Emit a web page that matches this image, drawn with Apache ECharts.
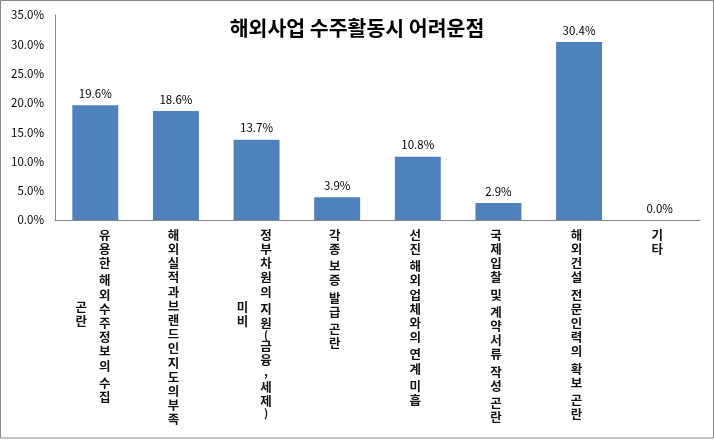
<!DOCTYPE html>
<html>
<head>
<meta charset="utf-8">
<script src="https://cdn.jsdelivr.net/npm/echarts@6/dist/echarts.min.js"></script>
<style>
html,body{margin:0;padding:0;background:#fff;}
#chart{width:714px;height:440px;}
</style>
</head>
<body>
<div id="chart"></div>
<script>
// ---- data ----
var titleText = '해외사업 수주활동시 어려운점';
// each category as its wrapped text columns (first column, then overflow column)
var categoryMain = [
  '유용한 해외수주정보의 수집',
  '해외실적과브랜드인지도의부족',
  '정부차원의 지원(금융, 세제)',
  '각종 보증 발급 곤란',
  '선진 해외업체와의 연계 미흡',
  '국제입찰 및 계약서류 작성 곤란',
  '해외건설 전문인력의 확보 곤란',
  '기타'
];
var categoryExtra = ['곤란', '', '미비', '', '', '', '', ''];
var values = [19.6, 18.6, 13.7, 3.9, 10.8, 2.9, 30.4, 0.0];
var yMin = 0, yMax = 35, yStep = 5;

// ---- rendering ----
var FONT = '"Noto Sans CJK KR", "Noto Sans", sans-serif';
function stack(s) {
  return s.split('').map(function (ch) {
    if (ch === ' ') return '{s| }';
    if ('(),'.indexOf(ch) >= 0) return '{p|' + ch + '}';
    return '{c|' + ch + '}';
  }).join('\n');
}
var richStyle = {
  c: {fontSize: 12.5, lineHeight: 14.2, fontFamily: FONT, fontWeight: 'bold', color: '#111'},
  s: {fontSize: 4, lineHeight: 3, fontFamily: FONT, color: '#000'},
  p: {fontSize: 11, lineHeight: 9, fontFamily: FONT, fontWeight: 'bold', color: '#111'}
};
var hasExtra = categoryExtra.map(function (e) { return e !== ''; });
var mainData = categoryMain.map(function (c, i) {
  return {value: c, textStyle: {padding: hasExtra[i] ? [0, 0, 0, 19] : [0, 5, 0, 0]}};
});
var extraData = categoryMain.map(function (c, i) {
  return {value: c, textStyle: {padding: [0, 28, 0, 0]}};
});

var chart = echarts.init(document.getElementById('chart'), null, {renderer: 'canvas'});
chart.setOption({
  animation: false,
  backgroundColor: '#fff',
  title: {
    text: titleText,
    left: 'center',
    top: 13,
    textStyle: {fontFamily: FONT, fontSize: 20.5, fontWeight: 'bold', color: '#000'}
  },
  grid: {left: 55, right: 14, top: 15, bottom: 220, containLabel: false},
  xAxis: [{
    type: 'category',
    data: mainData,
    axisLine: {lineStyle: {color: '#868686', width: 1}},
    axisTick: {show: false},
    axisLabel: {
      interval: 0,
      margin: 8,
      hideOverlap: false,
      formatter: function (v) { return stack(v); },
      rich: richStyle
    }
  }, {
    type: 'category',
    position: 'bottom',
    data: extraData,
    axisLine: {show: false},
    axisTick: {show: false},
    axisLabel: {
      interval: 0,
      margin: 80,
      hideOverlap: false,
      formatter: function (v, i) { return categoryExtra[i] ? stack(categoryExtra[i]) : ''; },
      rich: richStyle
    }
  }],
  yAxis: {
    type: 'value',
    min: yMin, max: yMax, interval: yStep,
    axisLine: {show: true, lineStyle: {color: '#868686', width: 1}},
    axisTick: {show: false},
    splitLine: {show: false},
    axisLabel: {
      margin: 11,
      color: '#000',
      fontFamily: FONT,
      fontSize: 11.5,
      formatter: function (v) { return v.toFixed(1) + '%'; }
    }
  },
  series: [{
    type: 'bar',
    xAxisIndex: 0,
    data: values,
    barWidth: '57%',
    itemStyle: {color: '#4F81BD'},
    label: {
      show: true,
      position: 'top',
      distance: 6,
      color: '#000',
      fontFamily: FONT,
      fontSize: 11.5,
      formatter: function (p) { return p.value.toFixed(1) + '%'; }
    }
  }],
  graphic: [{
    type: 'rect',
    shape: {x: 0.5, y: 0.5, width: 713, height: 437.5},
    style: {fill: 'none', stroke: '#868686', lineWidth: 1},
    silent: true,
    z: 100
  }]
});
</script>
</body>
</html>
